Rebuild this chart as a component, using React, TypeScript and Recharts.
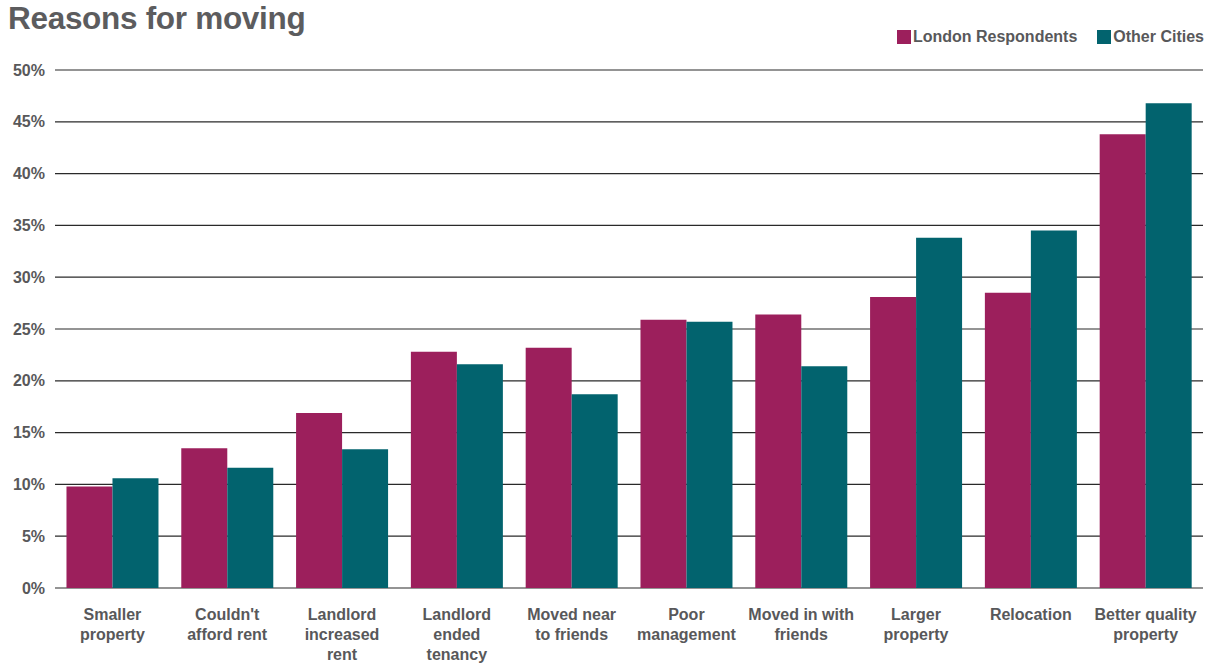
import { BarChart, Bar, XAxis, YAxis, CartesianGrid } from "recharts";

// categories (line breaks as in the picture)
const CATEGORIES = [
  "Smaller\nproperty",
  "Couldn't\nafford rent",
  "Landlord\nincreased\nrent",
  "Landlord\nended\ntenancy",
  "Moved near\nto friends",
  "Poor\nmanagement",
  "Moved in with\nfriends",
  "Larger\nproperty",
  "Relocation",
  "Better quality\nproperty",
];

const LONDON = [9.8, 13.5, 16.9, 22.8, 23.2, 25.9, 26.4, 28.1, 28.5, 43.8];
const OTHER_CITIES = [10.6, 11.6, 13.4, 21.6, 18.7, 25.7, 21.4, 33.8, 34.5, 46.8];

const Y_TICKS = [0, 5, 10, 15, 20, 25, 30, 35, 40, 45, 50];

const LONDON_COLOR = "#9c1f5c";
const OTHER_COLOR = "#02636e";
const TEXT_COLOR = "#58585a";
const FONT = "'Liberation Sans', Arial, Helvetica, sans-serif";

const data = CATEGORIES.map((name, i) => ({
  name,
  london: LONDON[i],
  other: OTHER_CITIES[i],
}));

// multi-line x tick
// eslint-disable-next-line @typescript-eslint/no-explicit-any
const CategoryTick = ({ x, y, payload }: any) => {
  const lines = String(payload.value).split("\n");
  return (
    <text
      x={x}
      y={y}
      textAnchor="middle"
      fill={TEXT_COLOR}
      fontSize={16}
      fontWeight="bold"
      fontFamily={FONT}>
      {lines.map((line, i) => (
        <tspan key={i} x={x} dy={i === 0 ? 30 : 20}>
          {line}
        </tspan>
      ))}
    </text>
  );
};

export default function App() {
  return (
    <div
      style={{
        position: "absolute",
        left: 0,
        top: 0,
        width: 1225,
        height: 665,
        background: "#fff",
        fontFamily: FONT,
      }}>
      {/* 제목 */}
      <div
        style={{
          position: "absolute",
          left: 8,
          top: 0,
          fontSize: 31.5,
          fontWeight: "bold",
          color: "#5c5c5e",
          letterSpacing: -0.3,
        }}>
        Reasons for moving
      </div>

      {/* 범례 */}
      <div
        style={{
          position: "absolute",
          right: 21,
          top: 28,
          display: "flex",
          alignItems: "center",
          fontSize: 16,
          fontWeight: "bold",
          color: TEXT_COLOR,
        }}>
        <span
          style={{
            width: 14,
            height: 14,
            background: LONDON_COLOR,
            display: "inline-block",
            marginRight: 2,
          }}
        />
        <span style={{ marginRight: 20 }}>London Respondents</span>
        <span
          style={{
            width: 14,
            height: 14,
            background: OTHER_COLOR,
            display: "inline-block",
            marginRight: 2,
          }}
        />
        <span>Other Cities</span>
      </div>

      <BarChart
        width={1225}
        height={665}
        data={data}
        margin={{ top: 70, right: 22, left: -2, bottom: 0 }}
        barCategoryGap="10%"
        barGap={0}>
        <CartesianGrid
          horizontal={true}
          vertical={false}
          stroke="#2a2a2a"
          strokeWidth={1.2}
        />
        <XAxis
          dataKey="name"
          height={77}
          axisLine={false}
          tickLine={false}
          tickSize={0}
          interval={0}
          tick={<CategoryTick />}
        />
        <YAxis
          type="number"
          domain={[0, 50]}
          ticks={Y_TICKS}
          width={57}
          axisLine={false}
          tickLine={false}
          tickSize={0}
          tickMargin={10}
          tickFormatter={(v: number) => `${v}%`}
          tick={{
            fontSize: 16,
            fontWeight: "bold",
            fill: TEXT_COLOR,
            fontFamily: FONT,
          }}
        />
        <Bar dataKey="london" fill={LONDON_COLOR} isAnimationActive={false} />
        <Bar dataKey="other" fill={OTHER_COLOR} isAnimationActive={false} />
      </BarChart>
    </div>
  );
}
